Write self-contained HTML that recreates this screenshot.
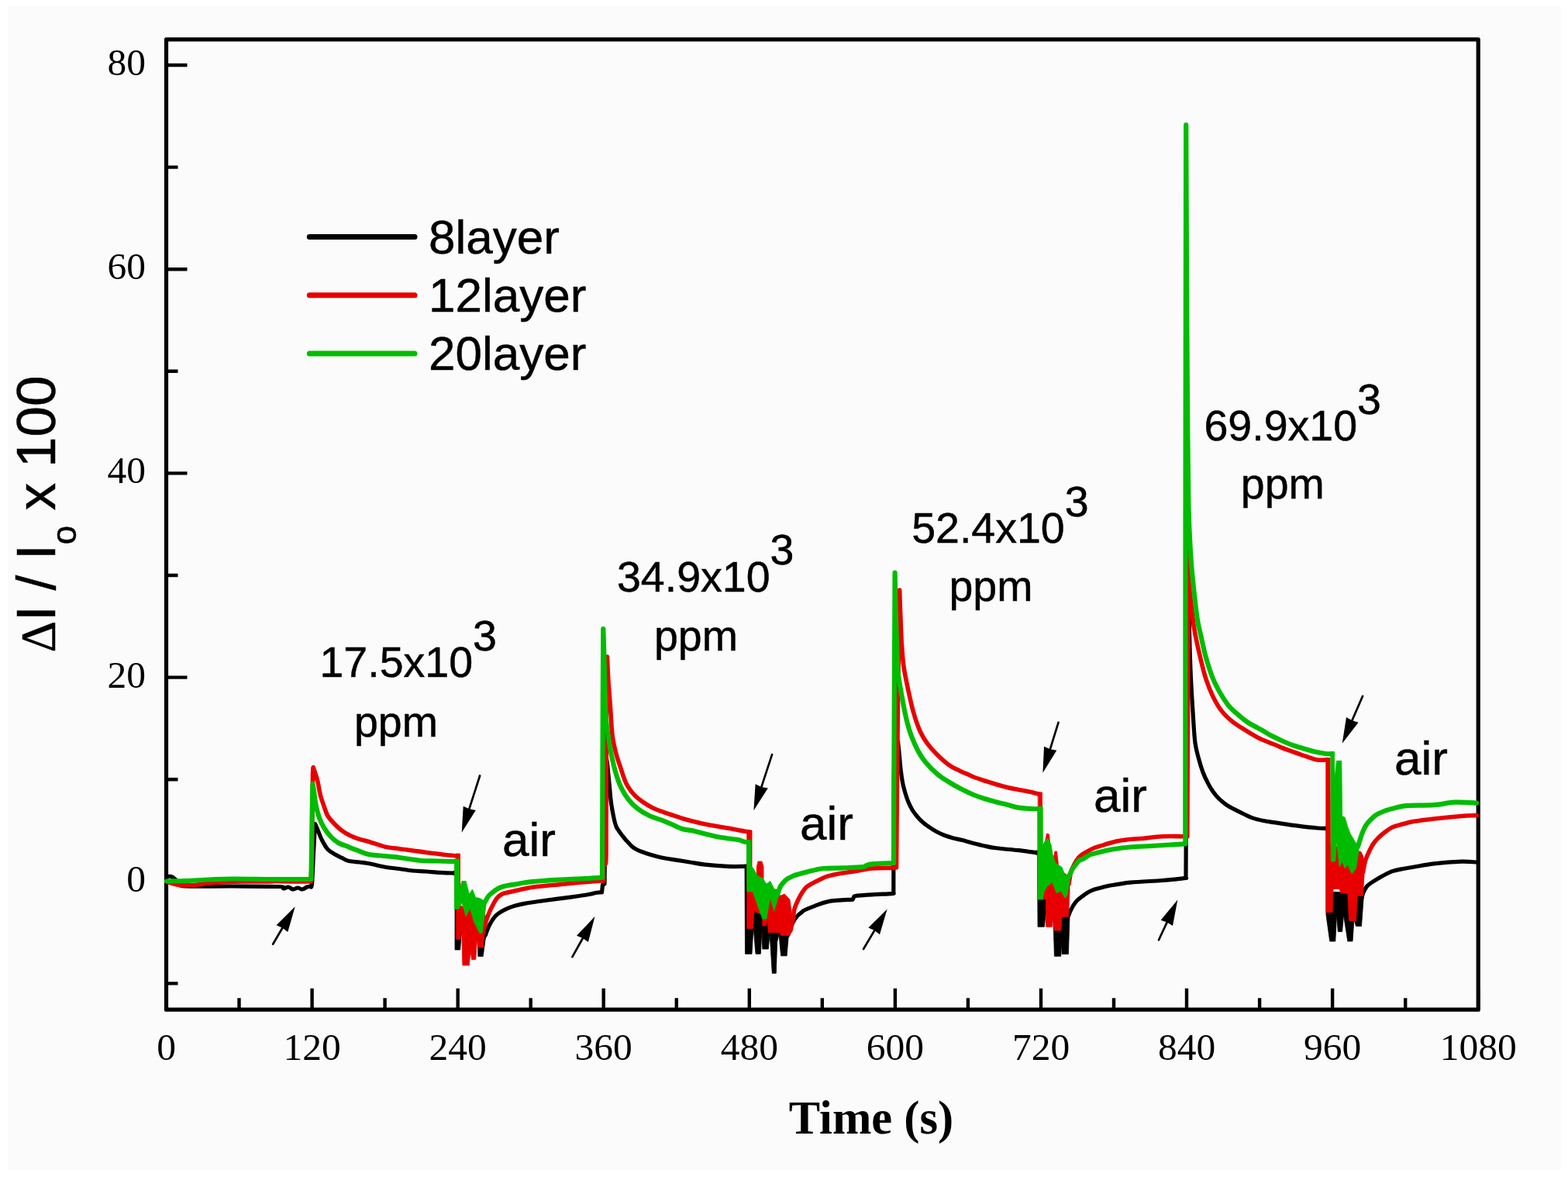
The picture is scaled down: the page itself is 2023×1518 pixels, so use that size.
<!DOCTYPE html><html><head><meta charset="utf-8"><title>Response plot</title><style>html,body{margin:0;padding:0;background:#fff;}svg{display:block;}.s{font-family:"Liberation Sans",Arial,sans-serif;stroke:#000;stroke-width:0.5px;}.f{font-family:"Liberation Serif","Times New Roman",serif;}</style></head><body>
<svg width="2023" height="1518" viewBox="0 0 2023 1518">
<rect x="0" y="0" width="2023" height="1518" fill="#ffffff"/>
<rect x="10" y="8" width="2004" height="1501" fill="#fbfbfb"/>
<rect x="214.5" y="50.9" width="1692.7" height="1251.3" fill="none" stroke="#000" stroke-width="5.2" stroke-linejoin="round"/>
<path d="M214.5 1302.2V1274.7M308.5 1302.2V1287.2M402.6 1302.2V1274.7M496.6 1302.2V1287.2M590.7 1302.2V1274.7M684.7 1302.2V1287.2M778.7 1302.2V1274.7M872.8 1302.2V1287.2M966.8 1302.2V1274.7M1060.8 1302.2V1287.2M1154.9 1302.2V1274.7M1248.9 1302.2V1287.2M1343.0 1302.2V1274.7M1437.0 1302.2V1287.2M1531.0 1302.2V1274.7M1625.1 1302.2V1287.2M1719.1 1302.2V1274.7M1813.2 1302.2V1287.2M1907.2 1302.2V1274.7M214.5 1268.4H229.5M214.5 1136.8H241.5M214.5 1005.2H229.5M214.5 873.6H241.5M214.5 742.0H229.5M214.5 610.4H241.5M214.5 478.8H229.5M214.5 347.2H241.5M214.5 215.6H229.5M214.5 84.0H241.5" stroke="#000" stroke-width="4.4" fill="none"/>
<g fill="none" stroke-linejoin="round" stroke-linecap="round">
<path d="M215.0 1130.5C216.0 1130.5 219.2 1129.9 221.0 1130.5C222.8 1131.1 224.2 1132.4 226.0 1134.0C227.8 1135.6 229.7 1138.5 232.0 1140.0C234.3 1141.5 228.7 1142.5 240.0 1143.0C251.3 1143.5 280.0 1142.9 300.0 1143.0C320.0 1143.1 349.0 1143.0 360.0 1143.5C371.0 1144.0 364.0 1145.9 366.0 1146.0C368.0 1146.1 370.0 1143.8 372.0 1144.0C374.0 1144.2 376.0 1146.8 378.0 1147.0C380.0 1147.2 382.0 1145.0 384.0 1145.0C386.0 1145.0 388.0 1147.2 390.0 1147.0C392.0 1146.8 394.3 1144.7 396.0 1144.0C397.7 1143.3 398.9 1143.7 400.0 1143.0C401.1 1142.3 401.8 1147.2 402.5 1140.0C403.2 1132.8 403.8 1112.9 404.5 1100.0C405.2 1087.1 406.2 1068.8 406.5 1062.5C406.8 1063.1 407.3 1064.4 408.0 1066.0C408.7 1067.6 409.5 1069.4 410.7 1072.3C411.9 1075.2 413.3 1079.5 415.3 1083.3C417.3 1087.1 419.9 1092.2 422.7 1095.3C425.5 1098.4 428.8 1099.9 431.9 1101.8C435.0 1103.7 438.0 1105.0 441.1 1106.4C444.2 1107.9 446.5 1109.6 450.4 1110.5C454.2 1111.4 460.1 1111.5 464.2 1112.0C468.3 1112.5 469.6 1112.5 475.0 1113.5C480.4 1114.5 490.0 1117.0 496.7 1118.2C503.4 1119.4 509.1 1119.7 515.0 1120.5C520.9 1121.3 526.5 1122.4 532.3 1123.0C538.1 1123.6 544.1 1123.6 550.0 1124.0C555.9 1124.4 562.1 1125.0 567.9 1125.3C573.6 1125.6 581.2 1125.9 584.5 1126.0C587.8 1126.1 587.0 1126.0 587.5 1126.0M626.4 1206.0C626.8 1205.0 627.6 1202.2 628.5 1200.0C629.4 1197.8 630.5 1195.1 631.7 1192.7C633.0 1190.3 634.4 1187.7 636.0 1185.5C637.6 1183.3 639.2 1181.3 641.2 1179.6C643.2 1177.8 645.6 1176.4 648.0 1175.0C650.4 1173.6 652.6 1172.5 655.4 1171.3C658.2 1170.1 661.5 1169.0 665.0 1168.0C668.5 1167.0 670.8 1166.4 676.7 1165.4C682.6 1164.4 690.6 1163.2 700.5 1161.8C710.4 1160.4 726.1 1158.5 736.0 1157.1C745.9 1155.7 754.1 1154.5 759.8 1153.5C765.5 1152.5 767.2 1151.6 770.0 1151.2C772.8 1150.8 775.4 1151.0 776.5 1151.0L777.5 1141.0L780.0 1140.0C780.2 1125.0 780.6 1077.0 781.0 1050.0C781.4 1023.0 782.2 989.9 782.4 977.9C782.6 979.1 782.9 979.5 783.5 985.0C784.1 990.5 785.3 1002.8 786.1 1011.1C786.9 1019.4 787.4 1027.2 788.4 1034.9C789.4 1042.6 791.3 1051.8 792.4 1057.0C793.5 1062.2 794.1 1063.7 795.0 1066.0C795.9 1068.3 796.7 1069.1 798.0 1071.0C799.3 1072.9 801.0 1075.3 802.7 1077.5C804.4 1079.7 805.8 1081.6 808.0 1084.0C810.2 1086.4 813.4 1090.0 815.7 1092.0C818.0 1094.0 819.6 1094.8 822.0 1096.0C824.4 1097.2 827.2 1098.2 830.2 1099.3C833.2 1100.4 836.4 1101.4 840.0 1102.5C843.6 1103.6 846.4 1104.6 852.0 1105.8C857.6 1107.0 867.4 1108.4 873.7 1109.4C880.0 1110.4 884.0 1111.0 890.0 1112.0C896.0 1113.0 901.8 1114.3 909.9 1115.2C918.0 1116.1 930.2 1117.0 938.9 1117.4C947.6 1117.8 958.2 1117.4 962.1 1117.4M1019.0 1200.0C1019.3 1199.0 1020.0 1196.3 1021.0 1194.0C1022.0 1191.7 1023.6 1188.3 1025.1 1186.0C1026.6 1183.7 1028.3 1181.7 1030.0 1180.0C1031.7 1178.3 1033.7 1177.0 1035.0 1176.0C1036.3 1175.0 1035.1 1175.2 1037.6 1174.0C1040.1 1172.8 1044.9 1170.8 1050.1 1168.9C1055.3 1167.0 1060.6 1164.1 1068.9 1162.6C1077.2 1161.1 1095.0 1160.5 1100.2 1160.1L1102.0 1156.0C1102.7 1155.8 1102.5 1155.5 1106.4 1155.1C1110.3 1154.7 1117.9 1154.2 1125.2 1153.8C1132.5 1153.4 1145.7 1152.9 1150.3 1152.6C1154.9 1152.3 1152.4 1152.1 1152.8 1152.0C1152.9 1126.7 1152.9 1032.3 1153.3 1000.0C1153.7 967.7 1154.7 965.0 1155.0 958.0L1158.5 956.0C1158.8 958.9 1159.7 967.5 1160.3 973.5C1160.9 979.5 1161.3 986.0 1162.0 992.0C1162.7 998.0 1163.6 1004.5 1164.6 1009.7C1165.6 1014.9 1166.8 1018.9 1168.0 1023.0C1169.2 1027.1 1170.4 1030.7 1171.9 1034.3C1173.4 1037.9 1175.1 1041.3 1177.0 1044.5C1178.9 1047.7 1181.3 1050.6 1183.5 1053.2C1185.7 1055.8 1187.6 1057.8 1190.0 1060.0C1192.4 1062.2 1195.0 1064.1 1198.0 1066.2C1201.0 1068.3 1204.4 1070.6 1208.0 1072.5C1211.6 1074.4 1216.0 1076.4 1219.7 1077.8C1223.4 1079.2 1226.4 1080.0 1230.0 1081.0C1233.6 1082.0 1235.9 1082.2 1241.4 1083.6C1246.9 1085.0 1256.0 1087.7 1263.2 1089.4C1270.5 1091.1 1276.5 1092.6 1284.9 1093.8C1293.4 1095.0 1305.4 1095.7 1313.9 1096.7C1322.4 1097.7 1331.5 1099.1 1335.7 1099.6C1339.9 1100.1 1338.5 1099.5 1339.0 1099.5M1379.0 1180.0C1379.3 1179.2 1380.0 1177.1 1381.0 1175.0C1382.0 1172.9 1383.5 1169.6 1385.0 1167.3C1386.5 1165.0 1388.2 1162.8 1390.0 1161.0C1391.8 1159.2 1394.1 1157.7 1396.1 1156.2C1398.1 1154.7 1399.7 1153.4 1402.0 1152.0C1404.3 1150.6 1406.9 1149.1 1409.9 1147.9C1412.9 1146.7 1416.5 1145.9 1420.0 1145.0C1423.5 1144.1 1424.3 1143.5 1430.7 1142.4C1437.1 1141.3 1446.9 1139.4 1458.4 1138.2C1469.9 1137.0 1488.4 1136.4 1499.9 1135.5C1511.4 1134.6 1522.6 1133.2 1527.6 1132.7C1532.6 1132.2 1529.6 1132.5 1530.0 1132.5C1530.2 1093.8 1530.5 973.8 1531.0 900.0C1531.5 826.2 1532.7 725.0 1533.0 690.0C1533.2 705.0 1533.7 758.3 1534.0 780.0C1534.3 801.7 1534.2 804.1 1534.6 820.0C1535.0 835.9 1535.7 858.5 1536.5 875.4C1537.3 892.3 1538.3 907.7 1539.2 921.5C1540.1 935.3 1540.7 948.7 1542.0 958.4C1543.3 968.1 1545.2 973.4 1546.9 979.7C1548.6 986.0 1550.1 990.9 1552.0 996.0C1553.9 1001.1 1556.3 1005.9 1558.5 1010.1C1560.7 1014.3 1562.6 1017.6 1565.0 1021.0C1567.4 1024.4 1570.0 1027.5 1573.0 1030.4C1576.0 1033.3 1579.4 1036.1 1583.0 1038.5C1586.6 1040.9 1591.0 1043.0 1594.7 1044.9C1598.4 1046.8 1601.4 1048.3 1605.0 1050.0C1608.6 1051.7 1612.2 1053.7 1616.4 1055.1C1620.6 1056.5 1625.2 1057.5 1630.0 1058.5C1634.8 1059.5 1638.0 1059.8 1645.4 1060.9C1652.8 1062.0 1665.3 1064.0 1674.4 1065.2C1683.5 1066.4 1693.7 1067.5 1700.0 1068.0C1706.3 1068.5 1710.4 1068.4 1712.5 1068.5M1757.0 1158.0C1757.3 1156.8 1757.9 1153.5 1759.0 1151.0C1760.1 1148.5 1761.8 1145.2 1763.6 1143.0C1765.4 1140.8 1767.5 1139.8 1770.0 1138.0C1772.5 1136.2 1776.1 1134.2 1778.9 1132.5C1781.7 1130.8 1784.0 1129.5 1787.0 1128.0C1790.0 1126.5 1792.9 1124.8 1796.7 1123.6C1800.5 1122.3 1805.5 1121.4 1810.0 1120.5C1814.5 1119.6 1816.7 1119.4 1823.4 1118.3C1830.1 1117.2 1839.7 1115.0 1850.1 1113.8C1860.5 1112.6 1876.4 1111.5 1885.6 1111.2C1894.8 1110.9 1901.8 1111.9 1905.0 1112.0" stroke="#000000" stroke-width="5.2"/>
<polygon points="585.0,1123.5 592.0,1123.5 592.0,1185.0 626.0,1195.0 628.5,1198.0 628.5,1203.0 626.0,1212.0 623.2,1233.4 616.9,1233.4 616.0,1210.0 595.0,1205.0 593.7,1225.0 587.0,1225.0 587.0,1128.5 585.0,1128.5" fill="#000000" stroke="#000000" stroke-width="0.8"/>
<polygon points="961.0,1115.0 965.0,1115.0 965.0,1170.0 1016.0,1175.0 1021.0,1192.0 1021.0,1202.0 1017.0,1210.0 1015.1,1232.8 1007.6,1232.8 1005.0,1205.0 1002.6,1215.0 1001.3,1255.3 996.3,1255.3 993.8,1215.0 993.0,1205.0 991.3,1224.0 983.8,1224.0 983.0,1200.0 981.3,1230.3 975.0,1230.3 972.0,1195.0 970.0,1230.3 961.5,1230.3 961.0,1120.0" fill="#000000" stroke="#000000" stroke-width="0.8"/>
<polygon points="1336.5,1097.0 1341.0,1097.0 1341.0,1150.0 1378.0,1170.0 1380.0,1174.0 1380.0,1182.0 1378.4,1230.6 1370.1,1230.6 1369.3,1215.0 1368.7,1233.3 1360.4,1233.3 1359.0,1185.0 1349.0,1180.0 1347.3,1195.3 1339.0,1195.3 1338.5,1102.0 1336.5,1102.0" fill="#000000" stroke="#000000" stroke-width="0.8"/>
<polygon points="1710.0,1066.0 1714.0,1066.0 1714.0,1150.0 1757.0,1152.0 1759.0,1152.0 1759.0,1160.0 1756.5,1194.5 1749.4,1194.5 1747.0,1185.0 1745.0,1214.0 1738.8,1214.0 1733.5,1180.0 1731.6,1201.6 1726.3,1201.6 1724.5,1180.0 1722.8,1214.0 1715.7,1214.0 1711.0,1180.0 1711.0,1071.0 1710.0,1071.0" fill="#000000" stroke="#000000" stroke-width="0.8"/>
<path d="M215.0 1137.0C217.7 1137.8 225.2 1140.8 231.0 1141.5C236.8 1142.2 243.5 1141.9 250.0 1141.5C256.5 1141.1 262.7 1139.7 270.0 1139.0C277.3 1138.3 286.8 1137.8 294.0 1137.5C301.2 1137.2 304.3 1137.1 313.0 1137.0C321.7 1136.9 339.0 1137.1 346.0 1137.0C353.0 1136.9 349.3 1136.5 355.0 1136.5C360.7 1136.5 372.3 1136.9 380.0 1137.0C387.7 1137.1 397.5 1137.0 401.0 1137.0C401.2 1130.8 402.1 1122.8 402.5 1100.0C402.9 1077.2 403.1 1018.0 403.5 1000.0C403.9 982.0 404.8 993.3 405.0 992.0C405.3 993.0 406.2 995.4 407.0 998.0C407.8 1000.6 408.7 1003.0 409.8 1007.7C410.9 1012.4 412.1 1020.7 413.5 1026.1C414.9 1031.5 416.6 1035.7 418.1 1040.0C419.6 1044.3 420.4 1048.2 422.7 1052.0C425.0 1055.8 428.8 1059.8 431.9 1063.0C435.0 1066.2 438.0 1069.0 441.1 1071.3C444.2 1073.6 446.5 1075.1 450.4 1076.9C454.2 1078.8 460.1 1081.0 464.2 1082.4C468.3 1083.8 469.6 1083.6 475.0 1085.2C480.4 1086.8 490.0 1090.5 496.7 1092.1C503.4 1093.7 509.1 1093.9 515.0 1094.7C520.9 1095.5 526.5 1096.1 532.3 1096.9C538.1 1097.7 544.1 1098.7 550.0 1099.5C555.9 1100.3 562.1 1100.9 567.9 1101.6C573.7 1102.3 581.1 1103.2 585.0 1103.5C588.9 1103.8 590.0 1103.7 591.0 1103.7M626.0 1192.0C626.3 1190.8 627.0 1187.8 628.0 1185.0C629.0 1182.2 630.7 1178.0 632.0 1175.0C633.3 1172.0 634.5 1169.8 636.0 1167.0C637.5 1164.2 639.1 1160.8 641.0 1158.5C642.9 1156.2 644.8 1154.8 647.1 1153.5C649.4 1152.2 652.0 1151.8 655.0 1151.0C658.0 1150.2 659.3 1150.0 664.9 1148.8C670.5 1147.6 678.7 1145.4 688.6 1144.0C698.5 1142.6 714.0 1141.5 724.2 1140.5C734.4 1139.5 741.4 1138.8 750.0 1138.0C758.6 1137.2 771.2 1136.3 776.0 1136.0C780.8 1135.7 778.1 1136.0 778.5 1136.0C778.6 1130.7 778.4 1110.0 779.0 1104.0C779.6 1098.0 781.5 1134.0 782.0 1100.0C782.5 1066.0 782.0 942.2 782.2 900.0C782.4 857.8 783.2 855.8 783.4 847.0C783.7 852.5 784.3 869.1 785.0 880.0C785.7 890.9 786.7 901.2 787.5 912.5C788.3 923.8 788.8 938.0 790.0 947.9C791.2 957.8 792.9 964.4 794.8 971.6C796.6 978.9 798.9 984.8 801.1 991.4C803.3 998.0 805.3 1005.4 808.2 1011.1C811.1 1016.8 814.8 1021.4 818.5 1025.4C822.2 1029.4 826.3 1032.1 830.3 1034.9C834.2 1037.7 838.2 1040.0 842.2 1042.0C846.2 1044.0 850.2 1045.3 854.0 1046.7C857.8 1048.1 860.5 1049.0 865.0 1050.5C869.5 1052.0 876.0 1054.3 881.0 1055.8C886.0 1057.3 890.2 1058.3 895.0 1059.5C899.8 1060.7 902.7 1061.6 910.0 1063.0C917.3 1064.4 930.6 1066.6 938.9 1068.1C947.2 1069.6 955.2 1071.2 960.0 1072.0C964.8 1072.8 966.2 1072.8 967.5 1073.0M1020.0 1200.0C1020.4 1198.0 1021.6 1192.7 1022.5 1188.0C1023.4 1183.3 1023.8 1176.7 1025.1 1172.0C1026.3 1167.3 1028.3 1163.5 1030.0 1160.0C1031.7 1156.5 1033.3 1153.6 1035.0 1151.0C1036.7 1148.4 1038.2 1146.2 1040.0 1144.5C1041.8 1142.8 1043.3 1142.1 1046.0 1140.5C1048.7 1138.9 1053.2 1136.7 1056.4 1135.1C1059.6 1133.5 1061.9 1132.2 1065.0 1131.0C1068.1 1129.8 1070.4 1129.2 1075.2 1128.2C1080.0 1127.2 1088.1 1126.0 1093.9 1125.1C1099.7 1124.1 1104.8 1123.3 1110.0 1122.5C1115.2 1121.7 1118.5 1120.5 1125.2 1120.0C1131.9 1119.5 1145.1 1119.6 1150.3 1119.4C1155.5 1119.2 1155.5 1119.1 1156.5 1119.0C1156.8 1082.5 1157.8 959.7 1158.5 900.0C1159.2 840.3 1160.2 784.2 1160.6 761.0C1160.8 766.6 1161.3 782.9 1161.8 794.6C1162.3 806.4 1162.7 820.6 1163.4 831.5C1164.1 842.4 1164.6 850.3 1166.0 860.0C1167.4 869.7 1169.6 879.7 1171.7 889.6C1173.8 899.5 1176.1 910.2 1178.7 919.3C1181.3 928.4 1184.5 937.4 1187.5 944.0C1190.5 950.6 1192.8 953.9 1196.4 958.8C1200.0 963.7 1204.7 969.0 1209.3 973.6C1213.9 978.2 1219.2 983.0 1224.1 986.5C1229.0 990.0 1234.6 992.3 1238.9 994.4C1243.2 996.5 1247.2 998.0 1250.0 999.3C1252.8 1000.6 1252.6 1000.7 1256.0 1002.0C1259.4 1003.3 1265.6 1005.4 1270.4 1007.0C1275.2 1008.6 1280.2 1010.1 1285.0 1011.5C1289.8 1012.9 1294.6 1014.3 1299.4 1015.5C1304.2 1016.7 1309.2 1017.5 1314.0 1018.5C1318.8 1019.5 1323.7 1020.3 1328.4 1021.3C1333.1 1022.3 1339.7 1023.9 1342.0 1024.4M1379.0 1140.0C1379.3 1138.0 1380.3 1131.2 1381.0 1128.0C1381.7 1124.8 1381.6 1124.1 1383.0 1121.0C1384.4 1117.9 1387.2 1112.2 1389.2 1109.2C1391.2 1106.2 1392.7 1104.8 1395.0 1103.0C1397.3 1101.2 1400.2 1099.7 1403.0 1098.1C1405.8 1096.5 1408.5 1094.9 1412.0 1093.5C1415.5 1092.1 1420.3 1090.9 1423.8 1089.8C1427.3 1088.7 1429.5 1087.9 1433.0 1087.0C1436.5 1086.1 1440.3 1085.0 1444.5 1084.3C1448.7 1083.5 1453.4 1083.0 1458.0 1082.5C1462.6 1082.0 1465.2 1082.1 1472.2 1081.5C1479.2 1080.9 1490.9 1079.2 1499.9 1078.7C1508.9 1078.2 1520.9 1078.7 1526.2 1078.7C1531.5 1078.8 1530.9 1079.0 1531.8 1079.0C1531.9 1049.2 1532.3 960.5 1532.6 900.0C1532.9 839.5 1533.3 746.7 1533.4 716.0C1533.7 723.3 1534.3 748.6 1535.0 760.0C1535.7 771.4 1536.6 776.8 1537.4 784.5C1538.2 792.2 1539.1 799.6 1540.0 806.0C1540.9 812.4 1541.6 816.0 1543.0 823.0C1544.4 830.0 1546.4 839.0 1548.5 847.7C1550.6 856.4 1553.0 867.0 1555.8 875.4C1558.5 883.8 1561.6 891.5 1565.0 898.4C1568.4 905.3 1571.9 911.5 1576.1 916.9C1580.3 922.3 1585.4 926.9 1590.0 930.7C1594.6 934.5 1598.4 936.5 1603.8 939.9C1609.2 943.3 1617.8 948.5 1622.3 951.0C1626.8 953.5 1627.2 953.4 1631.0 955.0C1634.8 956.6 1640.2 958.5 1645.0 960.5C1649.8 962.5 1655.0 964.8 1660.0 966.7C1665.0 968.6 1670.2 970.3 1675.0 972.0C1679.8 973.7 1684.8 975.5 1689.0 976.8C1693.2 978.1 1695.9 979.5 1700.0 980.0C1704.1 980.5 1711.2 980.0 1713.5 980.0M1758.5 1125.0C1758.9 1122.8 1760.2 1115.4 1761.0 1112.0C1761.8 1108.6 1762.4 1107.3 1763.6 1104.5C1764.8 1101.7 1766.6 1097.8 1768.0 1095.0C1769.4 1092.2 1770.2 1090.5 1772.0 1088.0C1773.8 1085.5 1776.4 1082.5 1778.9 1080.0C1781.4 1077.5 1784.0 1075.2 1787.0 1073.0C1790.0 1070.8 1792.9 1068.4 1796.7 1066.7C1800.5 1065.0 1805.5 1064.0 1810.0 1062.8C1814.5 1061.6 1816.7 1060.7 1823.4 1059.6C1830.1 1058.5 1839.7 1057.2 1850.1 1056.0C1860.5 1054.8 1876.4 1053.2 1885.6 1052.5C1894.8 1051.8 1901.8 1051.8 1905.0 1051.6" stroke="#e80000" stroke-width="5.6"/>
<polygon points="588.5,1101.0 593.5,1101.0 593.5,1168.0 625.0,1178.0 627.5,1185.0 627.5,1195.0 625.0,1205.0 623.2,1221.8 616.9,1221.8 615.5,1211.0 613.7,1237.6 608.5,1237.6 607.0,1227.0 605.3,1245.0 596.9,1245.0 595.5,1195.0 593.7,1211.3 588.5,1211.3" fill="#e80000" stroke="#e80000" stroke-width="0.8"/>
<polygon points="964.0,1071.0 970.0,1071.0 970.0,1150.0 976.0,1150.0 976.3,1118.0 978.0,1111.0 983.0,1111.0 985.0,1118.0 985.0,1150.0 1007.6,1155.0 1012.0,1153.0 1018.9,1160.0 1021.0,1175.0 1021.0,1200.0 1018.9,1206.5 1007.6,1206.5 1006.3,1202.7 991.3,1202.7 990.0,1185.0 988.8,1194.0 983.8,1194.0 983.8,1180.0 973.0,1175.0 971.3,1197.7 964.0,1197.7" fill="#e80000" stroke="#e80000" stroke-width="0.8"/>
<polygon points="1339.5,1022.0 1344.5,1022.0 1345.0,1150.0 1347.5,1090.0 1350.5,1075.0 1353.5,1076.0 1356.0,1102.0 1358.5,1110.0 1361.0,1098.0 1363.5,1098.0 1366.0,1120.0 1378.0,1130.0 1380.0,1135.0 1380.0,1150.0 1378.4,1182.2 1370.0,1182.2 1368.7,1200.1 1360.4,1200.1 1359.0,1180.0 1357.7,1195.3 1349.4,1195.3 1349.4,1160.0 1345.0,1160.0 1339.5,1150.0" fill="#e80000" stroke="#e80000" stroke-width="0.8"/>
<polygon points="1711.0,977.5 1716.0,977.5 1716.5,1090.0 1756.0,1098.6 1759.0,1105.0 1760.0,1130.0 1758.3,1155.4 1751.2,1155.4 1749.4,1187.4 1740.5,1187.4 1738.8,1151.9 1729.9,1151.9 1728.0,1146.5 1720.0,1146.5 1719.0,1176.7 1711.0,1176.7" fill="#e80000" stroke="#e80000" stroke-width="0.8"/>
<path d="M215.0 1136.5C219.2 1136.4 230.8 1136.3 240.0 1136.0C249.2 1135.7 260.0 1134.9 270.0 1134.5C280.0 1134.1 286.7 1133.6 300.0 1133.5C313.3 1133.4 334.2 1133.9 350.0 1134.0C365.8 1134.1 386.4 1134.0 395.0 1134.0C403.6 1134.0 400.4 1134.0 401.5 1134.0C401.7 1121.7 402.2 1080.5 402.5 1060.0C402.8 1039.5 403.2 1019.2 403.4 1011.0C403.7 1012.5 404.4 1015.9 405.0 1020.0C405.6 1024.1 405.9 1029.8 407.0 1035.4C408.1 1041.0 409.8 1048.4 411.6 1053.8C413.5 1059.2 415.5 1063.3 418.1 1067.6C420.7 1071.9 424.2 1076.4 427.3 1079.6C430.4 1082.8 433.4 1085.2 436.5 1087.0C439.6 1088.8 441.8 1089.2 445.7 1090.7C449.6 1092.2 454.7 1094.4 459.6 1096.2C464.5 1098.0 469.9 1100.6 475.0 1101.8C480.1 1103.0 484.4 1102.9 490.0 1103.5C495.6 1104.1 502.8 1104.5 508.6 1105.2C514.4 1105.9 519.1 1106.7 525.0 1107.5C530.9 1108.3 537.5 1109.5 544.2 1110.0C550.9 1110.5 559.0 1110.3 565.0 1110.5C571.0 1110.7 576.4 1110.9 580.0 1111.0C583.6 1111.1 585.4 1111.0 586.5 1111.0M626.0 1163.0C626.7 1161.8 628.5 1158.0 630.0 1156.0C631.5 1154.0 633.4 1152.7 635.2 1151.2C637.0 1149.7 639.0 1148.2 641.0 1147.0C643.0 1145.8 644.8 1144.8 647.1 1144.0C649.4 1143.2 652.0 1142.6 655.0 1142.0C658.0 1141.4 661.4 1141.1 664.9 1140.5C668.4 1139.9 672.0 1139.1 676.0 1138.5C680.0 1137.9 683.8 1137.4 688.6 1136.9C693.4 1136.4 699.1 1136.1 705.0 1135.7C710.9 1135.3 716.7 1135.0 724.2 1134.6C731.7 1134.2 742.1 1133.7 750.0 1133.3C757.9 1132.9 767.1 1132.4 771.6 1132.2C776.1 1132.0 776.1 1132.0 777.0 1132.0C777.1 1093.3 777.6 953.5 777.8 900.0C778.0 846.5 778.2 825.8 778.3 811.0C778.5 817.5 779.1 836.8 779.5 850.0C779.9 863.2 780.1 877.0 780.5 890.0C780.9 903.0 781.3 918.4 782.0 928.0C782.7 937.6 783.4 940.6 784.5 947.9C785.6 955.2 786.8 963.7 788.4 971.6C790.0 979.5 791.9 988.0 794.0 995.3C796.1 1002.5 798.3 1009.2 801.1 1015.1C803.9 1021.0 807.1 1026.3 810.6 1030.9C814.1 1035.5 817.8 1039.2 822.4 1042.8C827.0 1046.4 832.9 1049.8 838.2 1052.3C843.5 1054.8 849.3 1056.0 854.0 1057.8C858.7 1059.6 862.1 1061.1 866.4 1063.0C870.7 1064.9 875.2 1067.5 880.0 1069.0C884.8 1070.5 890.4 1070.6 895.4 1071.7C900.4 1072.8 905.2 1074.3 910.0 1075.5C914.8 1076.7 919.4 1078.0 924.4 1079.0C929.4 1080.0 935.2 1080.8 940.0 1081.5C944.8 1082.2 950.1 1082.6 953.4 1083.3C956.7 1084.0 958.2 1085.0 960.0 1085.5C961.8 1086.0 963.3 1086.2 964.0 1086.3M1004.0 1151.0C1004.5 1149.7 1005.8 1145.2 1007.0 1143.0C1008.2 1140.8 1010.0 1139.1 1011.3 1137.6C1012.6 1136.1 1013.5 1135.0 1015.0 1134.0C1016.5 1133.0 1018.4 1132.1 1020.1 1131.3C1021.8 1130.5 1023.4 1129.6 1025.1 1129.0C1026.8 1128.4 1027.0 1128.5 1030.1 1127.6C1033.2 1126.7 1040.2 1124.7 1043.9 1123.8C1047.6 1122.9 1048.9 1122.6 1052.0 1122.0C1055.1 1121.4 1056.6 1120.4 1062.6 1120.0C1068.5 1119.6 1079.3 1119.7 1087.7 1119.4C1096.1 1119.1 1107.7 1118.8 1112.7 1118.2C1117.8 1117.6 1115.9 1116.6 1118.0 1116.0C1120.1 1115.4 1119.8 1114.9 1125.2 1114.4C1130.6 1113.9 1145.7 1113.4 1150.3 1113.2C1154.9 1113.0 1152.5 1113.0 1153.0 1113.0C1153.1 1077.5 1153.5 962.4 1153.8 900.0C1154.1 837.6 1154.5 765.4 1154.6 738.5C1154.8 748.8 1155.5 782.2 1156.0 800.0C1156.5 817.8 1157.0 833.4 1157.5 845.0C1158.0 856.6 1157.9 860.8 1158.9 869.9C1160.0 879.0 1162.0 889.6 1163.8 899.5C1165.6 909.4 1167.8 921.0 1169.8 929.2C1171.8 937.4 1173.2 942.3 1175.7 948.9C1178.2 955.5 1181.5 962.9 1184.6 968.7C1187.7 974.5 1190.4 978.6 1194.5 983.5C1198.6 988.4 1204.4 994.1 1209.3 998.3C1214.2 1002.5 1219.0 1005.3 1224.1 1008.5C1229.2 1011.7 1234.7 1014.8 1240.0 1017.5C1245.3 1020.2 1250.9 1022.9 1255.9 1025.0C1260.9 1027.1 1265.2 1028.5 1270.0 1030.0C1274.8 1031.5 1279.9 1033.0 1284.9 1034.3C1289.9 1035.6 1295.2 1036.8 1300.0 1038.0C1304.8 1039.2 1308.9 1040.8 1313.9 1041.6C1318.9 1042.4 1325.5 1042.7 1330.0 1043.0C1334.5 1043.3 1339.2 1043.2 1341.0 1043.3M1379.0 1131.0C1379.5 1129.8 1381.0 1126.1 1382.0 1124.0C1383.0 1121.9 1383.6 1120.8 1385.3 1118.5C1387.0 1116.2 1390.2 1111.8 1392.2 1110.0C1394.2 1108.2 1395.2 1109.0 1397.5 1107.8C1399.8 1106.5 1402.8 1103.9 1406.0 1102.5C1409.2 1101.1 1413.4 1100.4 1416.9 1099.5C1420.4 1098.6 1423.5 1097.8 1427.0 1097.0C1430.5 1096.2 1432.4 1095.8 1437.6 1095.0C1442.8 1094.2 1450.3 1093.2 1458.4 1092.5C1466.5 1091.8 1477.4 1091.5 1486.0 1091.0C1494.6 1090.5 1503.1 1089.9 1510.0 1089.5C1516.9 1089.1 1524.4 1088.7 1527.6 1088.5C1530.8 1088.3 1529.0 1088.3 1529.3 1088.3C1529.3 1006.9 1529.4 754.5 1529.6 600.0C1529.8 445.5 1530.1 234.2 1530.2 161.0C1530.4 200.8 1530.9 333.5 1531.2 400.0C1531.5 466.5 1531.9 517.9 1532.3 560.0C1532.7 602.1 1532.9 629.4 1533.4 652.7C1533.9 676.0 1534.6 686.8 1535.3 700.0C1536.0 713.2 1536.4 719.9 1537.4 731.8C1538.4 743.7 1540.1 759.9 1541.4 771.3C1542.7 782.7 1543.7 791.9 1545.0 800.0C1546.3 808.1 1547.6 812.0 1549.4 820.0C1551.2 828.0 1553.2 838.5 1555.8 847.7C1558.4 856.9 1561.9 867.7 1565.0 875.4C1568.1 883.1 1570.9 888.0 1574.3 893.8C1577.7 899.6 1581.2 905.5 1585.4 910.4C1589.6 915.3 1594.9 919.6 1599.2 923.3C1603.5 927.0 1606.1 929.3 1611.2 932.5C1616.3 935.7 1625.5 940.2 1630.0 942.7C1634.5 945.2 1634.5 945.8 1638.2 947.8C1641.9 949.8 1647.2 952.3 1652.0 954.5C1656.8 956.7 1662.2 959.1 1667.2 960.9C1672.2 962.7 1677.2 964.0 1682.0 965.5C1686.8 967.0 1691.5 968.5 1696.2 969.6C1700.9 970.7 1706.2 971.5 1710.0 972.0C1713.8 972.5 1717.5 972.3 1719.0 972.4M1752.0 1092.0C1752.5 1090.3 1754.0 1085.2 1755.0 1082.0C1756.0 1078.8 1757.1 1075.4 1758.3 1072.6C1759.5 1069.8 1760.5 1067.4 1762.0 1065.0C1763.5 1062.6 1765.0 1060.7 1767.2 1058.4C1769.4 1056.1 1771.6 1053.5 1775.0 1051.3C1778.4 1049.1 1783.6 1047.0 1787.8 1045.4C1792.0 1043.9 1795.5 1043.0 1800.0 1042.0C1804.5 1041.0 1806.2 1039.7 1814.5 1039.1C1822.8 1038.5 1839.7 1038.9 1850.1 1038.2C1860.5 1037.5 1867.5 1035.1 1876.7 1034.7C1885.9 1034.3 1900.3 1035.4 1905.0 1035.6" stroke="#00bc00" stroke-width="6.2"/>
<polygon points="586.3,1108.0 592.6,1108.0 593.0,1147.0 595.8,1136.4 601.1,1136.4 605.3,1153.3 609.5,1147.0 613.7,1157.5 619.0,1158.5 624.3,1161.7 627.0,1158.0 627.0,1168.0 625.3,1179.6 622.2,1202.8 619.0,1203.9 611.6,1189.1 606.4,1171.2 601.1,1181.7 595.8,1163.8 592.0,1172.3 586.5,1172.3 586.3,1112.0" fill="#00bc00" stroke="#00bc00" stroke-width="0.8"/>
<polygon points="963.5,1083.5 968.8,1083.5 969.0,1117.6 971.3,1118.8 977.5,1130.0 983.8,1132.6 988.8,1140.1 993.8,1136.4 998.8,1146.4 1003.8,1147.6 1006.0,1145.0 1006.0,1155.0 1003.8,1157.6 998.8,1175.2 993.8,1157.6 988.8,1185.2 983.8,1185.2 977.5,1167.7 971.3,1150.1 963.8,1150.0 963.5,1089.0" fill="#00bc00" stroke="#00bc00" stroke-width="0.8"/>
<polygon points="1338.8,1040.5 1345.2,1040.5 1345.2,1090.9 1348.0,1085.0 1352.0,1081.2 1356.3,1090.0 1358.0,1101.9 1361.8,1113.0 1370.1,1118.5 1374.3,1129.6 1378.4,1126.8 1380.0,1124.0 1380.0,1136.0 1377.0,1154.0 1374.3,1158.6 1368.7,1149.0 1363.2,1151.7 1357.7,1137.9 1350.7,1143.4 1347.0,1150.0 1345.2,1160.0 1339.0,1160.0 1338.8,1046.0" fill="#00bc00" stroke="#00bc00" stroke-width="0.8"/>
<polygon points="1716.8,969.5 1721.5,969.5 1722.0,1004.0 1724.5,981.3 1730.8,981.3 1731.6,1052.4 1735.2,1054.2 1738.8,1066.6 1742.3,1075.5 1747.6,1084.4 1751.2,1089.7 1753.0,1086.0 1753.0,1098.0 1749.4,1119.9 1744.1,1127.0 1738.8,1115.0 1735.2,1119.9 1731.6,1111.0 1728.1,1118.1 1724.5,1084.4 1722.8,1111.0 1717.2,1111.0 1716.8,975.0" fill="#00bc00" stroke="#00bc00" stroke-width="0.8"/>
</g>
<g class="f" font-size="49.5" fill="#000">
<text x="214.5" y="1366.7" text-anchor="middle">0</text>
<text x="402.6" y="1366.7" text-anchor="middle">120</text>
<text x="590.7" y="1366.7" text-anchor="middle">240</text>
<text x="778.7" y="1366.7" text-anchor="middle">360</text>
<text x="966.8" y="1366.7" text-anchor="middle">480</text>
<text x="1154.9" y="1366.7" text-anchor="middle">600</text>
<text x="1343.0" y="1366.7" text-anchor="middle">720</text>
<text x="1531.0" y="1366.7" text-anchor="middle">840</text>
<text x="1719.1" y="1366.7" text-anchor="middle">960</text>
<text x="1907.2" y="1366.7" text-anchor="middle">1080</text>
<text x="188" y="1149.8" text-anchor="end">0</text>
<text x="188" y="886.6" text-anchor="end">20</text>
<text x="188" y="623.4" text-anchor="end">40</text>
<text x="188" y="360.2" text-anchor="end">60</text>
<text x="188" y="97.0" text-anchor="end">80</text>
</g>
<text class="f" x="1124" y="1461.8" text-anchor="middle" font-size="60.5" font-weight="bold">Time (s)</text>
<text class="s" transform="translate(71,841.5) rotate(-90)" font-size="71"><tspan class="f" font-size="63">Δ</tspan>I / I<tspan font-size="44" dy="27">o</tspan><tspan dy="-27"> x 100</tspan></text>
<line x1="399.3" y1="305.6" x2="535" y2="305.6" stroke="#000" stroke-width="7" stroke-linecap="round"/>
<line x1="399.3" y1="380.8" x2="535" y2="380.8" stroke="#e80000" stroke-width="7" stroke-linecap="round"/>
<line x1="399.3" y1="456.0" x2="535" y2="456.0" stroke="#00bc00" stroke-width="7" stroke-linecap="round"/>
<g class="s" font-size="62" fill="#000">
<text x="553" y="326.6">8layer</text>
<text x="553" y="401.8">12layer</text>
<text x="553" y="477">20layer</text>
</g>
<g class="s" font-size="55.5" fill="#000">
<text x="412.5" y="873.4">17.5x10<tspan dy="-34.5">3</tspan></text>
<text x="457.0" y="950.4">ppm</text>
<text x="796.0" y="762.9">34.9x10<tspan dy="-34.5">3</tspan></text>
<text x="844.0" y="839.4">ppm</text>
<text x="1176.2" y="700.0">52.4x10<tspan dy="-34.5">3</tspan></text>
<text x="1224.5" y="774.5">ppm</text>
<text x="1553.5" y="568.0">69.9x10<tspan dy="-34.5">3</tspan></text>
<text x="1600.8" y="643.2">ppm</text>
</g>
<g class="s" font-size="62" fill="#000">
<text x="648.0" y="1104.4">air</text>
<text x="1032.0" y="1082.5">air</text>
<text x="1411.0" y="1046.6">air</text>
<text x="1799.0" y="998.5">air</text>
</g>
<line x1="352.1" y1="1217.7" x2="364.4" y2="1196.8" stroke="#000" stroke-width="2.7" stroke-linecap="round"/><polygon points="380.7,1169.2 371.3,1201.9 364.4,1196.8 356.6,1193.3" fill="#000"/>
<line x1="738.4" y1="1234.2" x2="751.9" y2="1210.0" stroke="#000" stroke-width="2.7" stroke-linecap="round"/><polygon points="767.5,1182.0 758.9,1215.0 751.9,1210.0 744.0,1206.7" fill="#000"/>
<line x1="1114.0" y1="1224.0" x2="1128.2" y2="1200.1" stroke="#000" stroke-width="2.7" stroke-linecap="round"/><polygon points="1144.6,1172.6 1135.0,1205.3 1128.2,1200.1 1120.4,1196.6" fill="#000"/>
<line x1="1495.0" y1="1212.3" x2="1505.7" y2="1189.4" stroke="#000" stroke-width="2.7" stroke-linecap="round"/><polygon points="1519.3,1160.4 1513.0,1193.9 1505.7,1189.4 1497.6,1186.7" fill="#000"/>
<line x1="619.1" y1="1000.5" x2="605.4" y2="1043.2" stroke="#000" stroke-width="2.7" stroke-linecap="round"/><polygon points="595.7,1073.7 597.7,1039.7 605.4,1043.2 613.8,1044.9" fill="#000"/>
<line x1="996.1" y1="973.2" x2="982.4" y2="1014.9" stroke="#000" stroke-width="2.7" stroke-linecap="round"/><polygon points="972.4,1045.3 974.6,1011.3 982.4,1014.9 990.8,1016.6" fill="#000"/>
<line x1="1365.5" y1="931.9" x2="1354.9" y2="966.2" stroke="#000" stroke-width="2.7" stroke-linecap="round"/><polygon points="1345.4,996.8 1347.0,962.8 1354.9,966.2 1363.3,967.8" fill="#000"/>
<line x1="1758.1" y1="897.8" x2="1744.4" y2="929.3" stroke="#000" stroke-width="2.7" stroke-linecap="round"/><polygon points="1731.7,958.7 1737.0,925.0 1744.4,929.3 1752.6,931.8" fill="#000"/>
</svg></body></html>
